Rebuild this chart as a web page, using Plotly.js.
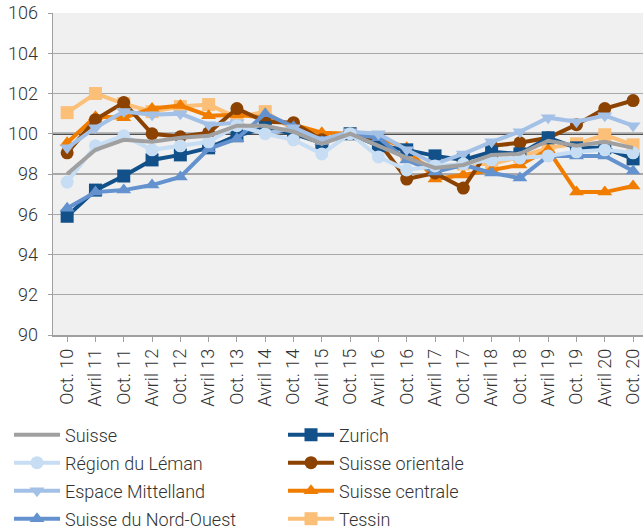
<!DOCTYPE html>
<html>
<head>
<meta charset="utf-8">
<script src="https://cdn.plot.ly/plotly-3.0.1.min.js"></script>
<style>html,body{margin:0;padding:0;background:#fff;}#chart{width:643px;height:531px;}</style>
</head>
<body>
<div id="chart"></div>
<script>
const categories = ["Oct. 10","Avril 11","Oct. 11","Avril 12","Oct. 12","Avril 13","Oct. 13","Avril 14","Oct. 14","Avril 15","Oct. 15","Avril 16","Oct. 16","Avril 17","Oct. 17","Avril 18","Oct. 18","Avril 19","Oct. 19","Avril 20","Oct. 20"];

const suisse      = [98.0, 99.2, 99.7, 99.6, 99.8, 99.9, 100.4, 100.4, 100.1, 99.5, 100.0, 99.4, 98.8, 98.3, 98.45, 98.95, 99.0, 99.65, 99.4, 99.6, 99.3];
const leman       = [97.6, 99.4, 99.9, 99.2, 99.4, 99.6, 100.4, 100.0, 99.7, 99.0, 100.0, 98.85, 98.2, 98.4, 98.5, 98.7, 98.8, 98.9, 99.1, 99.2, 99.05];
const mittelland  = [99.3, 100.3, 101.1, 100.95, 101.0, 100.45, 100.55, 100.0, 100.3, 99.7, 100.1, 100.0, 99.2, 98.5, 99.0, 99.6, 100.1, 100.8, 100.6, 100.9, 100.4];
const nordOuest   = [96.3, 97.1, 97.2, 97.45, 97.85, 99.25, 99.75, 101.0, 100.35, 99.6, 100.0, 99.8, 98.7, 98.1, 98.45, 98.05, 97.8, 98.9, 98.9, 98.9, 98.15];
const zurich      = [95.9, 97.2, 97.9, 98.7, 98.95, 99.3, 99.9, 100.3, 100.0, 99.55, 100.0, 99.4, 99.2, 98.9, 98.7, 99.1, 99.0, 99.8, 99.3, 99.3, 98.75];
const orientale   = [99.05, 100.7, 101.55, 100.0, 99.85, 100.05, 101.25, 100.6, 100.55, 99.7, 100.0, 99.6, 97.75, 98.05, 97.3, 99.4, 99.55, 99.8, 100.45, 101.25, 101.65];
const centrale    = [99.55, 100.85, 100.8, 101.25, 101.4, 100.9, 100.95, 100.8, 100.45, 100.05, 100.0, 99.8, 99.3, 97.75, 97.95, 98.2, 98.45, 99.2, 97.1, 97.1, 97.4];
const tessin      = [101.05, 102.0, 101.5, 101.1, 101.35, 101.45, 100.8, 101.1, 100.2, 99.7, 100.0, 99.6, 99.0, 98.2, 98.5, 98.5, 98.85, 99.3, 99.5, 99.95, 99.45];
const baseline = 100;

// legend row for each series (rows of two entries, like the reference)
const series = [
  {name:"Tessin", y:tessin, color:"#fbbf78", symbol:"square", legend:"legend4", rank:2},
  {name:"Suisse centrale", y:centrale, color:"#f07d00", symbol:"triangle-up", legend:"legend3", rank:2},
  {name:"Suisse orientale", y:orientale, color:"#8c4200", symbol:"circle", legend:"legend2", rank:2},
  {name:"Zurich", y:zurich, color:"#125089", symbol:"square", legend:"legend", rank:2},
  {name:"Suisse du Nord-Ouest", y:nordOuest, color:"#6492cf", symbol:"triangle-up", legend:"legend4", rank:1},
  {name:"Espace Mittelland", y:mittelland, color:"#a3c0e6", symbol:"triangle-down", legend:"legend3", rank:1},
  {name:"Région du Léman", y:leman, color:"#c6ddf3", symbol:"circle", legend:"legend2", rank:1},
  {name:"Suisse", y:suisse, color:"#a0a0a0", symbol:null, legend:"legend", rank:1}
];

const traces = series.map(s => {
  const t = {
    type:"scatter",
    x:categories,
    y:s.y,
    name:s.name,
    legend:s.legend,
    legendrank:s.rank,
    mode: s.symbol ? "lines+markers" : "lines",
    line:{color:s.color, width:4},
    cliponaxis:false
  };
  if (s.symbol) t.marker = {symbol:s.symbol, size:13, color:s.color, line:{width:0}};
  return t;
});

function legendRow(yPix) {
  return {
    orientation:"h",
    xref:"container", x:9/643, xanchor:"left",
    yref:"container", y:1 - yPix/531, yanchor:"middle",
    entrywidth:213, entrywidthmode:"pixels",
    font:{family:"Roboto, sans-serif", size:18, weight:300, color:"#333333"},
    traceorder:"normal",
    itemwidth:46,
    bgcolor:"rgba(0,0,0,0)"
  };
}

const layout = {
  width:643, height:531,
  margin:{l:53, r:0, t:13, b:196, pad:0, autoexpand:false},
  paper_bgcolor:"#ffffff",
  plot_bgcolor:"#f0f0f0",
  font:{family:"Roboto, sans-serif", size:18, weight:300, color:"#333333"},
  showlegend:true,
  legend:legendRow(435),
  legend2:legendRow(463),
  legend3:legendRow(491),
  legend4:legendRow(519),
  xaxis:{
    type:"category",
    range:[-0.5, 20.35],
    tickangle:-90,
    ticks:"outside", ticklen:5, tickcolor:"#a0a0a0", tickwidth:1,
    showline:true, linecolor:"#a0a0a0", linewidth:1.5,
    showgrid:false,
    tickfont:{family:"Roboto, sans-serif", size:18, weight:300, color:"#333333"},
    automargin:false,
    fixedrange:true
  },
  yaxis:{
    range:[90, 106],
    dtick:2, tick0:90,
    ticks:"outside", ticklen:4, tickcolor:"#a0a0a0",
    showline:true, linecolor:"#a0a0a0", linewidth:1.5,
    showgrid:true, gridcolor:"#a8a8a8", gridwidth:1.3,
    zeroline:false,
    tickfont:{family:"Roboto, sans-serif", size:18, weight:300, color:"#333333"},
    ticklabelstandoff:6,
    automargin:false,
    fixedrange:true
  },
  shapes:[{type:"line", xref:"paper", x0:0, x1:1, yref:"y", y0:baseline, y1:baseline, line:{color:"#1a1a1a", width:2}, layer:"below"}]
};

Plotly.newPlot("chart", traces, layout, {displayModeBar:false, staticPlot:true});
</script>
</body>
</html>
